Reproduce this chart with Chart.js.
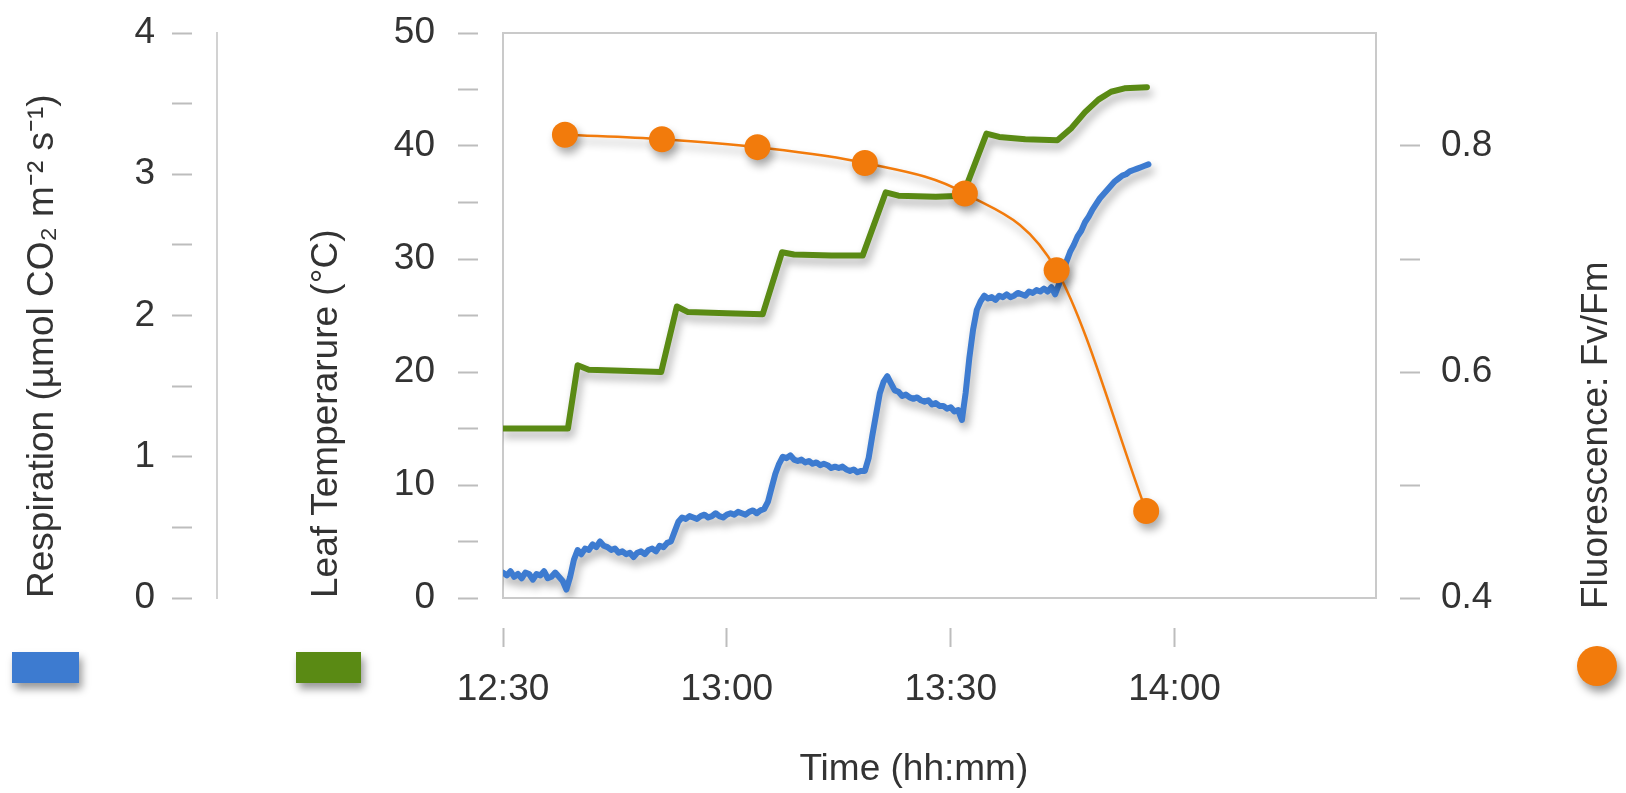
<!DOCTYPE html>
<html>
<head>
<meta charset="utf-8">
<script src="https://cdn.jsdelivr.net/npm/chart.js@4.4.1/dist/chart.umd.min.js"></script>
<style>
  html, body { margin: 0; padding: 0; background: #ffffff; }
  canvas { display: block; }
</style>
</head>
<body>
<canvas id="c" width="1626" height="793"></canvas>
<script>
// ---------- data (minutes after 12:30) ----------
const timeTickMinutes = [0, 30, 60, 90];
const timeTickLabels = ['12:30', '13:00', '13:30', '14:00'];

// Respiration, sampled every 0.5 min from 12:30
const respStartMin = 0;
const respStepMin = 0.5;
const respirationValues = [
  0.18, 0.16, 0.19, 0.15, 0.17, 0.14, 0.18, 0.17, 0.13, 0.17,
  0.16, 0.19, 0.14, 0.15, 0.18, 0.15, 0.12, 0.06,
  0.15, 0.27, 0.34, 0.31, 0.35, 0.34,
  0.38, 0.36, 0.40, 0.37, 0.36, 0.34, 0.35, 0.32, 0.33, 0.31,
  0.32, 0.29, 0.32, 0.33, 0.31, 0.34, 0.35, 0.33, 0.37, 0.36, 0.39, 0.40,
  0.47, 0.54, 0.57, 0.56, 0.58, 0.57, 0.56, 0.58, 0.59, 0.57,
  0.58, 0.60, 0.58, 0.57, 0.59, 0.60, 0.59, 0.61, 0.60, 0.59,
  0.61, 0.62, 0.60, 0.62, 0.63,
  0.68, 0.78, 0.88, 0.95, 1.00,
  0.99, 1.01, 0.98, 0.97, 0.98, 0.96, 0.97, 0.95, 0.96, 0.94,
  0.95, 0.94, 0.92, 0.93, 0.92, 0.93, 0.91, 0.90, 0.91, 0.89, 0.90, 0.90,
  0.99, 1.15, 1.30, 1.45, 1.53, 1.57,
  1.52, 1.47, 1.46, 1.43, 1.44, 1.42, 1.41, 1.42, 1.40, 1.39,
  1.40, 1.37, 1.38, 1.36, 1.36, 1.34, 1.35, 1.32, 1.33, 1.26,
  1.45, 1.70, 1.90, 2.04, 2.10, 2.14,
  2.12, 2.13, 2.11, 2.14, 2.13, 2.15, 2.13, 2.14, 2.16, 2.15,
  2.14, 2.17, 2.16, 2.18, 2.17, 2.19, 2.17, 2.20, 2.15, 2.22,
  2.30, 2.38, 2.45, 2.50, 2.56, 2.60, 2.66, 2.70, 2.75, 2.79,
  2.83, 2.86, 2.89, 2.92, 2.95, 2.97, 2.99, 3.00, 3.02, 3.03,
  3.04, 3.05, 3.06, 3.07
];

// Leaf temperature
const tempMinutes = [0, 8.7, 10.0, 11.5, 16, 21.2, 23.3, 24.8, 30, 34.8,
  37.4, 39, 44, 48.2, 51.3, 53, 58, 61.6, 64.8, 66.5, 70, 74.3,
  76.2, 78, 79.8, 81.5, 83.3, 86.3];
const tempValues = [15.0, 15.0, 20.6, 20.2, 20.1, 20.0, 25.8, 25.3, 25.2, 25.1,
  30.6, 30.4, 30.3, 30.3, 35.9, 35.6, 35.5, 35.6, 41.1, 40.8, 40.6, 40.5,
  41.6, 43.0, 44.1, 44.8, 45.1, 45.2];

// Fluorescence Fv/Fm
const fluorMinutes = [8.3, 21.3, 34.1, 48.5, 61.9, 74.2, 86.2];
const fluorValues = [0.810, 0.806, 0.799, 0.785, 0.758, 0.690, 0.477];

// ---------- texts ----------
const respTitle = 'Respiration (µmol CO₂ m⁻² s⁻¹)';
const tempTitle = 'Leaf Temperarure (°C)';
const fluorTitle = 'Fluorescence: Fv/Fm';
const timeTitle = 'Time (hh:mm)';

// ---------- styles ----------
const BLUE = '#3d7bd0';
const GREEN = '#5a8a14';
const ORANGE = '#f27b0c';
const TEXT = '#333333';
const TICK = '#bdbdbd';
const FRAME = '#cacaca';
const FONT = "'Liberation Sans', Arial, sans-serif";
const tickFont = { family: FONT, size: 37 };
const titleFont = { family: FONT, size: 37 };

const respData = respirationValues.map((v, i) => ({ x: respStartMin + i * respStepMin, y: v }));
const tempData = tempMinutes.map((t, i) => ({ x: t, y: tempValues[i] }));
const fluorData = fluorMinutes.map((t, i) => ({ x: t, y: fluorValues[i] }));

const decor = {
  id: 'decor',
  beforeDatasetsDraw(chart) {
    const { ctx, chartArea: a } = chart;
    ctx.save();
    ctx.strokeStyle = FRAME;
    ctx.lineWidth = 2;
    ctx.strokeRect(a.left, a.top, a.right - a.left, a.bottom - a.top);
    ctx.restore();
    ctx.save();
    ctx.shadowColor = 'rgba(0,0,0,0.33)';
    ctx.shadowBlur = 8;
    ctx.shadowOffsetX = 3;
    ctx.shadowOffsetY = 6;
  },
  afterDatasetsDraw(chart) {
    chart.ctx.restore();
  },
  afterDraw(chart) {
    const { ctx, chartArea: a } = chart;
    const yF = chart.scales.yF;
    // right axis title (reads bottom to top)
    ctx.save();
    ctx.fillStyle = TEXT;
    ctx.font = '37px ' + FONT;
    ctx.textAlign = 'left';
    ctx.textBaseline = 'middle';
    ctx.translate(yF.right - 29, a.bottom + 11);
    ctx.rotate(-Math.PI / 2);
    ctx.fillText(fluorTitle, 0, 0);
    ctx.restore();
    // legend swatches
    ctx.save();
    ctx.shadowColor = 'rgba(0,0,0,0.4)';
    ctx.shadowBlur = 8;
    ctx.shadowOffsetX = 3;
    ctx.shadowOffsetY = 6;
    ctx.fillStyle = BLUE;
    ctx.fillRect(12, 652, 67, 31);
    ctx.fillStyle = GREEN;
    ctx.fillRect(296, 652, 65, 31);
    ctx.fillStyle = ORANGE;
    ctx.beginPath();
    ctx.arc(yF.right - 29, 666, 20, 0, Math.PI * 2);
    ctx.fill();
    ctx.restore();
  }
};

new Chart(document.getElementById('c'), {
  type: 'line',
  data: {
    datasets: [
      {
        label: fluorTitle, data: fluorData, yAxisID: 'yF', order: 0,
        borderColor: ORANGE, backgroundColor: ORANGE, borderWidth: 2.5,
        pointRadius: 13, pointBorderWidth: 0, pointBackgroundColor: ORANGE,
        cubicInterpolationMode: 'monotone', fill: false
      },
      {
        label: tempTitle, data: tempData, yAxisID: 'yT', order: 1,
        borderColor: GREEN, borderWidth: 6, pointRadius: 0, tension: 0,
        borderJoinStyle: 'round', borderCapStyle: 'round', fill: false
      },
      {
        label: respTitle, data: respData, yAxisID: 'yR', order: 2,
        borderColor: BLUE, borderWidth: 6, pointRadius: 0, tension: 0,
        borderJoinStyle: 'round', borderCapStyle: 'round', fill: false
      }
    ]
  },
  options: {
    responsive: false,
    animation: false,
    events: [],
    layout: { padding: { top: 33, left: 0, right: 0, bottom: 0 } },
    plugins: { legend: { display: false }, tooltip: { enabled: false } },
    scales: {
      x: {
        type: 'linear', position: 'bottom', min: 0, max: 117,
        afterBuildTicks: s => { s.ticks = timeTickMinutes.map(v => ({ value: v })); },
        afterFit: s => { s.height = 195; },
        grid: { drawOnChartArea: false, drawTicks: true, tickLength: 70, tickColor: TICK, tickWidth: 2, tickBorderDash: [0, 30, 19, 300] },
        border: { display: false },
        ticks: {
          font: tickFont, color: TEXT, padding: 0, maxRotation: 0, autoSkip: false,
          callback: v => { const i = timeTickMinutes.indexOf(v); return i >= 0 ? timeTickLabels[i] : ''; }
        },
        title: { display: true, text: timeTitle + '     ', font: titleFont, color: TEXT, padding: { top: 0, bottom: 1 } }
      },
      yR: {
        type: 'linear', position: 'left', weight: 10, min: 0, max: 4,
        afterFit: s => { s.width = 217; },
        grid: { drawOnChartArea: false, drawTicks: true, tickLength: 62, tickColor: TICK, tickWidth: 2, tickBorderDash: [0, 17, 20, 25] },
        border: { display: true, color: '#d2d2d2', width: 2 },
        ticks: {
          stepSize: 0.5, autoSkip: false, font: tickFont, color: TEXT, padding: 0,
          callback: v => Number.isInteger(v) ? String(v) : ''
        },
        title: { display: true, text: respTitle, align: 'start', font: titleFont, color: TEXT, padding: { top: 21, bottom: 0 } }
      },
      yT: {
        type: 'linear', position: 'left', weight: 0, min: 0, max: 50,
        afterFit: s => { s.width = 286; },
        grid: { drawOnChartArea: false, drawTicks: true, tickLength: 68, tickColor: TICK, tickWidth: 2, tickBorderDash: [0, 23, 20, 25] },
        border: { display: false },
        ticks: {
          stepSize: 5, autoSkip: false, font: tickFont, color: TEXT, padding: 0,
          callback: v => (v % 10 === 0) ? String(v) : ''
        },
        title: { display: true, text: tempTitle, align: 'start', font: titleFont, color: TEXT, padding: { top: 88, bottom: 0 } }
      },
      yF: {
        type: 'linear', position: 'right', min: 0.4, max: 0.9,
        afterBuildTicks: s => { s.ticks = s.ticks.filter(t => t.value <= 0.85); },
        afterFit: s => { s.width = 250; },
        grid: { drawOnChartArea: false, drawTicks: true, tickLength: 65, tickColor: TICK, tickWidth: 2, tickBorderDash: [0, 24, 20, 300] },
        border: { display: false },
        ticks: {
          stepSize: 0.1, autoSkip: false, font: tickFont, color: TEXT, padding: 0,
          callback: v => (Math.round(v * 10) % 2 === 0) ? v.toFixed(1) : ''
        }
      }
    }
  },
  plugins: [decor]
});
</script>
</body>
</html>
